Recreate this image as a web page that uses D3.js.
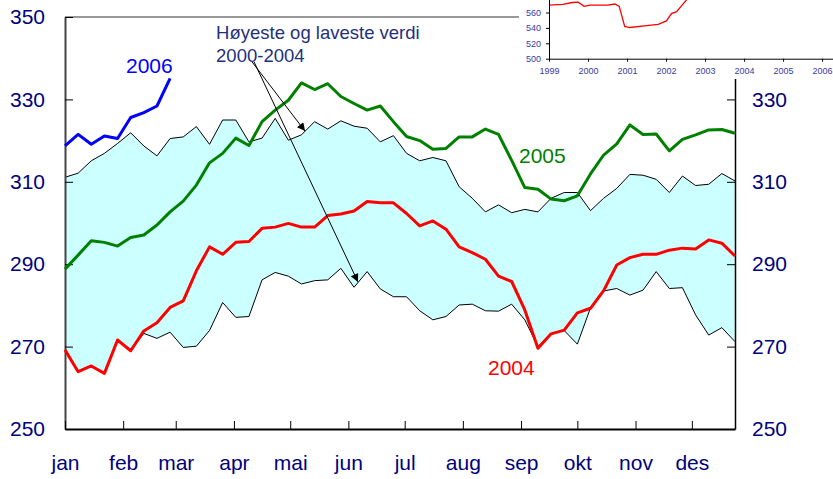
<!DOCTYPE html>
<html>
<head>
<meta charset="utf-8">
<script src="https://cdn.jsdelivr.net/npm/d3@7"></script>
<style>
body { margin: 0; background: #fff; }
svg { display: block; font-family: "Liberation Sans", Arial, sans-serif; }
</style>
</head>
<body>
<div id="graph"></div>
<script>
// month labels and the day of year where each month starts
var monthLabels = ["jan", "feb", "mar", "apr", "mai", "jun", "jul", "aug", "sep", "okt", "nov", "des"];
var monthStartDay = [0, 31, 59, 90, 120, 151, 181, 212, 243, 273, 304, 334];
var yTicks = [250, 270, 290, 310, 330, 350];

// weekly values (week 1..52), band = highest / lowest 2000-2004
var maxBand = [311.1, 312.1, 315.1, 316.9, 319.3, 321.9, 318.7, 316.3, 320.5, 320.9, 323.4, 319.1, 325, 325,
	319.7, 320.6, 325.4, 320.1, 321.4, 324.6, 322.8, 324.8, 323.5, 323, 319.7, 321.2, 316.9, 315.1, 315.9, 315.1,
	308.8, 306, 302.7, 304.4, 302.5, 303.3, 302.7, 306, 307.4, 307.4, 303, 306, 308.4, 311.8, 311.6, 310.6,
	307.4, 311.4, 309.1, 309.4, 312, 310.2];
var minBand = [269.2, 263.9, 265.3, 263.5, 271.6, 269, 273.2, 272, 273.5, 269.8, 270.1, 273.9, 280.7, 277.1,
	277.3, 286.2, 288, 287.1, 285.2, 286, 286.2, 289, 284.4, 288.2, 284, 282.1, 282.1, 278.7, 276.5, 277.3,
	280.1, 280.3, 278.7, 278.6, 280.3, 276.5, 270, 273.1, 273.9, 270.6, 279.4, 283.5, 284.1, 282.5, 283.7,
	288.2, 284.1, 284.3, 277.7, 272.8, 274.6, 271.2];
var values2004 = [269.2, 263.9, 265.3, 263.5, 271.6, 269, 273.8, 275.8, 279.5, 281.1, 288.4, 294.2, 292.4, 295.3,
	295.5, 298.7, 299, 299.9, 299, 299, 301.8, 302.2, 302.9, 305.2, 304.9, 304.9, 302.3, 299.3, 300.5, 298.5,
	294.2, 292.8, 291.2, 287.1, 285.8, 278.9, 269.6, 273.1, 274, 278.2, 279.3, 283.6, 289.8, 291.6, 292.4,
	292.4, 293.4, 293.9, 293.7, 295.9, 295.1, 292];
var values2005 = [288.8, 292.2, 295.7, 295.3, 294.4, 296.5, 297.1, 299.5, 302.7, 305.3, 309.2, 314.6, 316.9, 320.6,
	318.8, 324.6, 327.4, 329.8, 334, 332.4, 333.8, 330.7, 329, 327.4, 328.4, 324.6, 321, 320, 317.9, 318.1,
	320.9, 320.9, 322.8, 321.5, 315.2, 308.6, 308.2, 305.8, 305.4, 306.6, 311.9, 316.5, 319.2, 323.8, 321.5,
	321.6, 317.5, 320.3, 321.4, 322.6, 322.7, 321.8];
var values2006 = [318.7, 321.5, 319.1, 321.1, 320.5, 325.6, 326.8, 328.4, 335.1];

// small inset chart (top right corner, clipped at the top)
var insetYears = [1999.0, 1999.35, 1999.6, 1999.75, 1999.9, 2000.05, 2000.5, 2000.69, 2000.8, 2000.94, 2001.07,
	2001.5, 2001.8, 2002.01, 2002.14, 2002.27, 2002.52, 2002.8];
var insetValues = [569.5, 570.5, 573, 573.5, 568, 569.5, 569.5, 571, 568, 542, 540.5, 543, 544.5, 549, 558.5,
	561, 576, 600];
var insetYTicks = [500, 520, 540, 560, 580];
var insetXTicks = [1999, 2000, 2001, 2002, 2003, 2004, 2005, 2006];

var navy = "#000080";
var w = 833, h = 479;
// note: "top" is a reserved window property, so use plot* names
var plotLeft = 65, plotRight = 735, plotTop = 17, plotBottom = 429;

var svg = d3.select("div#graph").append("svg")
	.attr("width", w)
	.attr("height", h);

// scales: weeks on x, day-of-year for the month axis
var x = d3.scaleLinear().domain([0, 51]).range([plotLeft, plotRight]);
var xDay = d3.scaleLinear().domain([0, 357]).range([plotLeft, plotRight]);
var y = d3.scaleLinear().domain([250, 350]).range([plotBottom, plotTop]);

var weeks = d3.range(maxBand.length);

// band between highest and lowest
svg.append("path")
	.datum(weeks)
	.attr("fill", "#ccffff")
	.attr("d", d3.area()
		.x(function(i) { return x(i); })
		.y0(function(i) { return y(minBand[i]); })
		.y1(function(i) { return y(maxBand[i]); }));

[maxBand, minBand].forEach(function(band) {
	svg.append("path")
		.datum(band)
		.attr("fill", "none")
		.attr("stroke", "#000")
		.attr("stroke-width", 1)
		.attr("d", d3.line().x(function(d, i) { return x(i); }).y(function(d) { return y(d); }));
});

// frame top line
svg.append("line")
	.attr("x1", plotLeft).attr("x2", plotRight)
	.attr("y1", plotTop).attr("y2", plotTop)
	.attr("stroke", "#333").attr("stroke-width", 1);

// left axis
var gLeft = svg.append("g")
	.attr("transform", "translate(" + plotLeft + ",0)")
	.call(d3.axisLeft(y).tickValues(yTicks).tickSizeInner(-8).tickSizeOuter(0).tickPadding(20));
gLeft.select(".domain").attr("stroke", "#444").attr("stroke-width", 2);

// right axis
var gRight = svg.append("g")
	.attr("transform", "translate(" + plotRight + ",0)")
	.call(d3.axisRight(y).tickValues(yTicks).tickSizeInner(-8).tickSizeOuter(0).tickPadding(17));
gRight.select(".domain").attr("stroke", "#000").attr("stroke-width", 1.5);

// bottom (months) axis
var gBottom = svg.append("g")
	.attr("transform", "translate(0," + plotBottom + ")")
	.call(d3.axisBottom(xDay).tickValues(monthStartDay)
		.tickFormat(function(d, i) { return monthLabels[i]; })
		.tickSizeInner(-8).tickSizeOuter(0).tickPadding(26));
gBottom.select(".domain").attr("stroke", "#000").attr("stroke-width", 2);

[gLeft, gRight, gBottom].forEach(function(g) {
	g.selectAll(".tick line").attr("stroke", "#000");
	g.selectAll("text")
		.attr("fill", navy)
		.style("font-size", "21px")
		.style("font-family", "Liberation Sans, Arial, sans-serif");
});

// the yearly lines
var series = [
	{ values: values2004, color: "#ff0000" },
	{ values: values2005, color: "#008000" },
	{ values: values2006, color: "#0000ff" }
];
series.forEach(function(s) {
	svg.append("path")
		.datum(s.values)
		.attr("fill", "none")
		.attr("stroke", s.color)
		.attr("stroke-width", 3)
		.attr("stroke-linejoin", "round")
		.attr("d", d3.line().x(function(d, i) { return x(i); }).y(function(d) { return y(d); }));
});

// year labels
svg.append("text").attr("x", x(4.64)).attr("y", y(336.4)).attr("fill", "#0000ff")
	.style("font-size", "21px").text("2006");
svg.append("text").attr("x", x(34.56)).attr("y", y(314.6)).attr("fill", "#008000")
	.style("font-size", "21px").text("2005");
svg.append("text").attr("x", x(32.2)).attr("y", y(263.1)).attr("fill", "#ff0000")
	.style("font-size", "21px").text("2004");

// annotation with two arrows
var note = svg.append("text")
	.attr("fill", "#1f2f80")
	.style("font-size", "18.5px");
note.append("tspan").attr("x", x(11.5)).attr("y", y(344.7)).text("Høyeste og laveste verdi");
note.append("tspan").attr("x", x(11.5)).attr("y", y(339.1)).text("2000-2004");

svg.append("defs").append("marker")
	.attr("id", "arrow")
	.attr("viewBox", "0 0 10 10")
	.attr("refX", 10).attr("refY", 5)
	.attr("markerWidth", 10).attr("markerHeight", 8)
	.attr("markerUnits", "userSpaceOnUse")
	.attr("orient", "auto")
	.append("path").attr("d", "M0,0L10,5L0,10z").attr("fill", "#000");

var arrowTargets = [[18.27, 322.3], [22.3, 285.7]];
arrowTargets.forEach(function(t, i) {
	svg.append("line")
		.attr("x1", x(11.5) + 36 + i * 2).attr("y1", y(339.1))
		.attr("x2", x(t[0])).attr("y2", y(t[1]))
		.attr("stroke", "#000").attr("stroke-width", 1)
		.attr("marker-end", "url(#arrow)");
});

// inset chart
var inset = svg.append("g").attr("class", "inset");
inset.append("rect").attr("x", 519).attr("y", 0).attr("width", w - 519).attr("height", 79).attr("fill", "#fff");

var ix = d3.scaleLinear().domain([1999, 2006.28]).range([549, 833]);
var iy = d3.scaleLinear().domain([500, 580]).range([58.7, -2.9]);

inset.append("path")
	.datum(insetValues)
	.attr("fill", "none")
	.attr("stroke", "#ff0000")
	.attr("stroke-width", 1.3)
	.attr("d", d3.line().x(function(d, i) { return ix(insetYears[i]); }).y(function(d) { return iy(d); }));

var giL = inset.append("g")
	.attr("transform", "translate(549,0)")
	.call(d3.axisLeft(iy).tickValues(insetYTicks).tickSizeInner(3).tickSizeOuter(0).tickPadding(5));
var giB = inset.append("g")
	.attr("transform", "translate(0," + iy(500) + ")")
	.call(d3.axisBottom(ix).tickValues(insetXTicks).tickFormat(d3.format("d"))
		.tickSizeInner(3).tickSizeOuter(0).tickPadding(6));
[giL, giB].forEach(function(g) {
	g.select(".domain").attr("stroke", "#000");
	g.selectAll("text").attr("fill", "#3a3a9e").style("font-size", "9px")
		.style("font-family", "Liberation Sans, Arial, sans-serif");
});
</script>
</body>
</html>
